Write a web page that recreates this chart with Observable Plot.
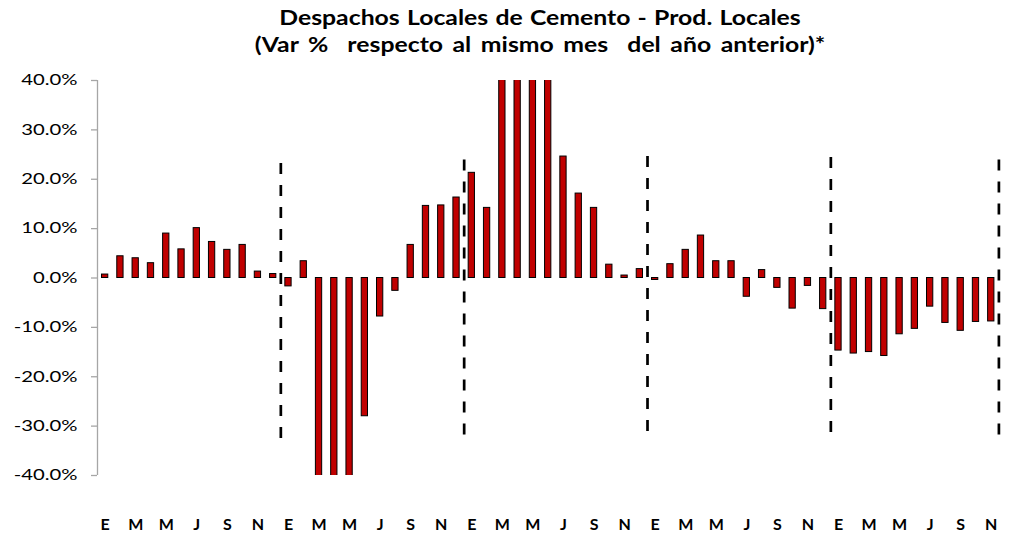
<!DOCTYPE html>
<html>
<head>
<meta charset="utf-8">
<script src="https://cdn.jsdelivr.net/npm/d3@7"></script>
<script src="https://cdn.jsdelivr.net/npm/@observablehq/plot@0.6"></script>
<style>
  html, body { margin: 0; padding: 0; background: #fff; }
  #title {
    height: 62px; box-sizing: border-box; padding-top: 3px;
    margin-left: 65px; width: 950px; text-align: center;
    font: bold 21px/27px Lato, sans-serif; color: #000; white-space: pre;
    word-spacing: 1px; transform: scaleX(1.18); transform-origin: 50% 50%;
  }
  #title .l2 { word-spacing: 3px; }
  #chart svg { display: block; }
  g[aria-label="x-axis tick label"] text { font-weight: bold; }
</style>
</head>
<body>
<div id="title"><div>Despachos Locales de Cemento - Prod. Locales</div><div class="l2">(Var %  respecto al mismo mes  del año anterior)*</div></div>
<div id="chart"></div>
<script>
// Month initials (Spanish): E F M A M J J A S O N D
const monthLetters = ["E","F","M","A","M","J","J","A","S","O","N","D"];

// Year-over-year % change, 59 consecutive months (5 years, last one ends in November)
// Bars beyond ±40% are clipped in the chart (values estimated).
const year1 = [0.7, 4.4, 4.0, 3.0, 9.0, 5.8, 10.1, 7.3, 5.7, 6.7, 1.3, 0.8];
const year2 = [-1.7, 3.4, -45, -62, -42, -28.0, -7.8, -2.6, 6.7, 14.6, 14.7, 16.3];
const year3 = [21.3, 14.2, 48, 110, 55, 45, 24.6, 17.1, 14.2, 2.7, 0.5, 1.8];
const year4 = [-0.4, 2.8, 5.7, 8.6, 3.4, 3.4, -3.8, 1.6, -2.0, -6.2, -1.6, -6.3];
const year5 = [-14.7, -15.3, -15.0, -15.8, -11.4, -10.3, -5.8, -9.1, -10.7, -8.9, -8.8];

// Dashed year dividers (position in month index units) and their vertical extent (%)
const dividerX = [11.5, 23.5, 35.5, 47.5, 58.5];
const dividerTop = [23.2, 23.9, 24.6, 24.4, 23.9];
const dividerBottom = [-32.9, -32.3, -31.9, -31.9, -32.3];

// Axis ticks
const yTicks = [-40, -30, -20, -10, 0, 10, 20, 30, 40];
const xTicks = d3.range(0, 59, 2);

const values = [...year1, ...year2, ...year3, ...year4, ...year5];
const data = values.map((v, i) => ({i, v}));
const dividers = dividerX.map((x, k) => ({x, top: dividerTop[k], bottom: dividerBottom[k]}));

const chart = Plot.plot({
  width: 1015,
  height: 472,
  marginTop: 18,
  marginBottom: 59,
  marginLeft: 97,
  marginRight: 16.6,
  style: {fontFamily: "Lato, sans-serif", background: "#fff", color: "#000"},
  x: {type: "linear", domain: [-0.5, 58.5]},
  y: {domain: [-40, 40]},
  marks: [
    Plot.ruleX([-0.5], {stroke: "#a6a6a6", strokeWidth: 1.3}),
    Plot.axisY({
      ticks: yTicks,
      tickFormat: d => d.toFixed(1) + "%",
      tickSize: 6,
      tickPadding: 14,
      stroke: "#a6a6a6",
      strokeWidth: 1.3,
      fill: "#000",
      fontSize: 15,
      label: null
    }),
    Plot.rectY(data, {
      x1: d => d.i - 0.5,
      x2: d => d.i + 0.5,
      y1: 0,
      y2: "v",
      insetLeft: 4.5,
      insetRight: 4.5,
      fill: "#C00000",
      stroke: "#000",
      strokeWidth: 1,
      clip: true
    }),
    Plot.ruleX(dividers, {
      x: "x",
      y1: "top",
      y2: "bottom",
      stroke: "#000",
      strokeWidth: 2.7,
      strokeDasharray: "11,11"
    }),
    Plot.axisX({
      ticks: xTicks,
      tickFormat: i => monthLetters[i % 12],
      tickSize: 0,
      tickPadding: 43,
      fill: "#000",
      fontSize: 16,
      fontWeight: "bold",
      label: null
    })
  ]
});
document.getElementById("chart").appendChild(chart);

// The reference renders the y tick labels horizontally stretched: widen the glyphs in place
chart.querySelectorAll('g[aria-label="y-axis tick label"] text').forEach(t => {
  const w = t.getComputedTextLength();
  if (w > 0) {
    t.setAttribute("textLength", (w * 1.35).toFixed(1));
    t.setAttribute("lengthAdjust", "spacingAndGlyphs");
  }
});
</script>
</body>
</html>
